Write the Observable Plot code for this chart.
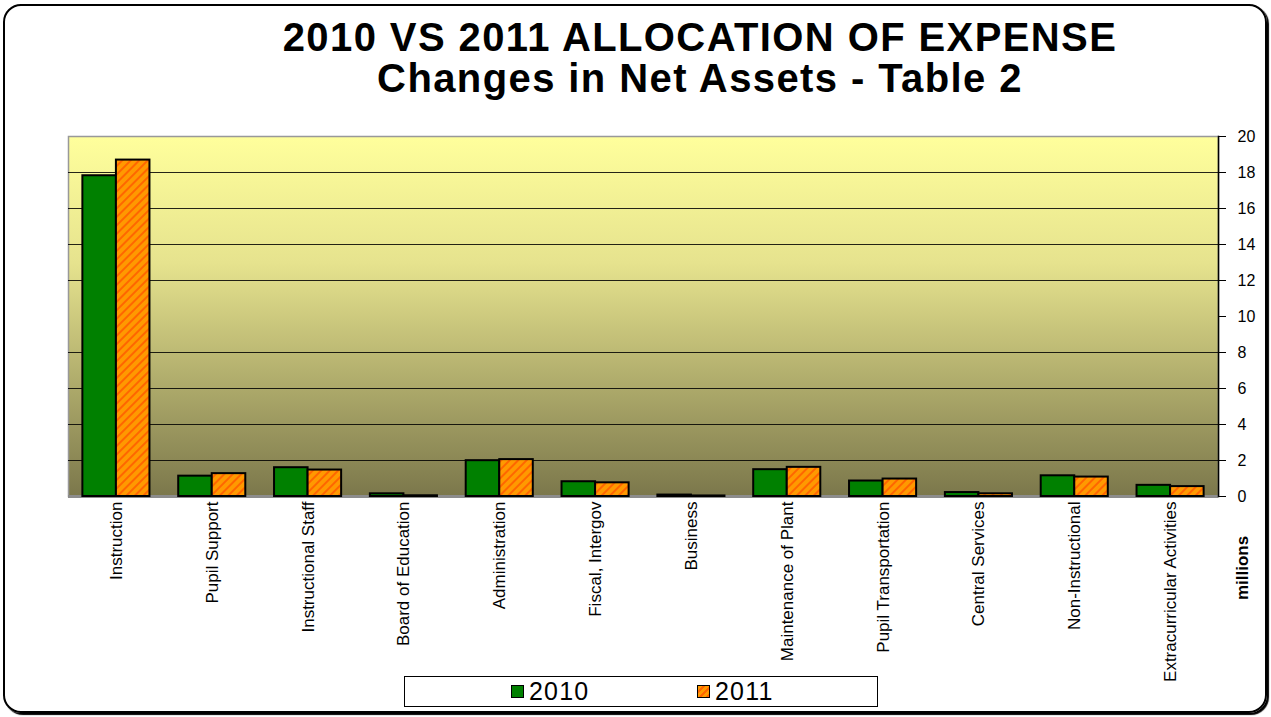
<!DOCTYPE html>
<html><head><meta charset="utf-8">
<script src="https://cdn.jsdelivr.net/npm/d3@7"></script>
<script src="https://cdn.jsdelivr.net/npm/@observablehq/plot@0.6"></script>
<style>
body{margin:0;background:#fff;font-family:"Liberation Sans",Arial,sans-serif;}
#page{position:relative;width:1271px;height:717px;overflow:hidden;background:#fff;}
#border{position:absolute;left:3px;top:4px;width:1260px;height:705px;border:2px solid #000;border-radius:18px;box-shadow:2px 2px 1px #000;}
.title{position:absolute;left:200px;width:1000px;text-align:center;font-weight:bold;font-size:40px;line-height:40px;letter-spacing:1.4px;color:#000;white-space:nowrap;}
#chart{position:absolute;left:0;top:120px;}
#units{position:absolute;left:1243px;top:568px;transform:translate(-50%,-50%) rotate(-90deg);font-weight:bold;font-size:17px;white-space:nowrap;}
#legend{position:absolute;left:404px;top:676px;width:472px;height:29px;border:1px solid #000;background:#fff;}
.item{position:absolute;top:1px;font-size:25px;line-height:27px;letter-spacing:1.2px;}
.sw{display:inline-block;width:11px;height:11px;border:1px solid #000;margin-right:5px;vertical-align:2px;}
</style></head>
<body>
<div id="page">
  <div id="border"></div>
  <div class="title" style="top:17px">2010 VS 2011 ALLOCATION OF EXPENSE</div>
  <div class="title" style="top:58px">Changes in Net Assets - Table 2</div>
  <div id="chart"></div>
  <div id="units">millions</div>
  <div id="legend">
    <div class="item" style="left:106px"><span class="sw" style="background:#008000"></span>2010</div>
    <div class="item" style="left:292px"><span class="sw" style="background:repeating-linear-gradient(135deg,#FF9900 0 3px,#FF6600 3px 5px)"></span>2011</div>
  </div>
</div>
<script>
const categories = ["Instruction","Pupil Support","Instructional Staff","Board of Education","Administration","Fiscal, Intergov","Business","Maintenance of Plant","Pupil Transportation","Central Services","Non-Instructional","Extracurricular Activities"];
const values2010 = [17.82,1.13,1.60,0.15,1.99,0.82,0.08,1.49,0.86,0.22,1.15,0.62];
const values2011 = [18.69,1.27,1.47,0.04,2.05,0.76,0.03,1.62,0.97,0.15,1.08,0.55];
const yTicks = [0,2,4,6,8,10,12,14,16,18,20];
const gridValues = [2,4,6,8,12,14,16,18];

const rows2010 = categories.map((c,i)=>({category:c, value:values2010[i]}));
const rows2011 = categories.map((c,i)=>({category:c, value:values2011[i]}));

const W=1271, mL=68, mR=53, mT=16, mB=195, H=571;
const step=(W-mL-mR)/categories.length, half=step*0.7/2;

const svg = Plot.plot({
  width:W, height:H, marginLeft:mL, marginRight:mR, marginTop:mT, marginBottom:mB,
  style:{fontFamily:"'Liberation Sans', Arial, sans-serif", background:"transparent", overflow:"visible", color:"#000"},
  x:{domain:categories, paddingInner:0.3, paddingOuter:0.15, round:false, label:null},
  y:{domain:[0,20], label:null},
  marks:[
    Plot.frame({fill:"url(#bg)", stroke:"#999", strokeWidth:1.5}),
    Plot.ruleY(gridValues,{stroke:"#000", strokeWidth:1, strokeOpacity:0.85}),
    Plot.ruleY([0],{stroke:"#8c8c8c", strokeWidth:3}),
    Plot.barY(rows2010,{x:"category", y:"value", fill:"#008000", stroke:"#000", strokeWidth:2, insetRight:half}),
    Plot.barY(rows2011,{x:"category", y:"value", fill:"url(#hatch)", stroke:"#000", strokeWidth:2, insetLeft:half}),
    Plot.frame({anchor:"right", stroke:"#000", strokeWidth:1.5}),
    Plot.axisX({tickSize:0, tickRotate:-90, tickPadding:5, fontSize:17, label:null}),
    Plot.axisY({anchor:"right", ticks:yTicks, tickSize:7, tickPadding:12, fontSize:16, label:null})
  ]
});

const defs = d3.select(svg).insert("defs", ":first-child");
const g = defs.append("linearGradient").attr("id","bg").attr("x1",0).attr("y1",0).attr("x2",0).attr("y2",1);
g.append("stop").attr("offset","0%").attr("stop-color","#FFFF9C");
g.append("stop").attr("offset","35%").attr("stop-color","#E6E38E");
g.append("stop").attr("offset","100%").attr("stop-color","#7B774B");
const p = defs.append("pattern").attr("id","hatch").attr("patternUnits","userSpaceOnUse")
  .attr("width",6).attr("height",6).attr("patternTransform","rotate(45)");
p.append("rect").attr("width",6).attr("height",6).attr("fill","#FF9900");
p.append("rect").attr("width",2).attr("height",6).attr("fill","#FF6600");

document.getElementById("chart").appendChild(svg);
</script>
</body></html>
